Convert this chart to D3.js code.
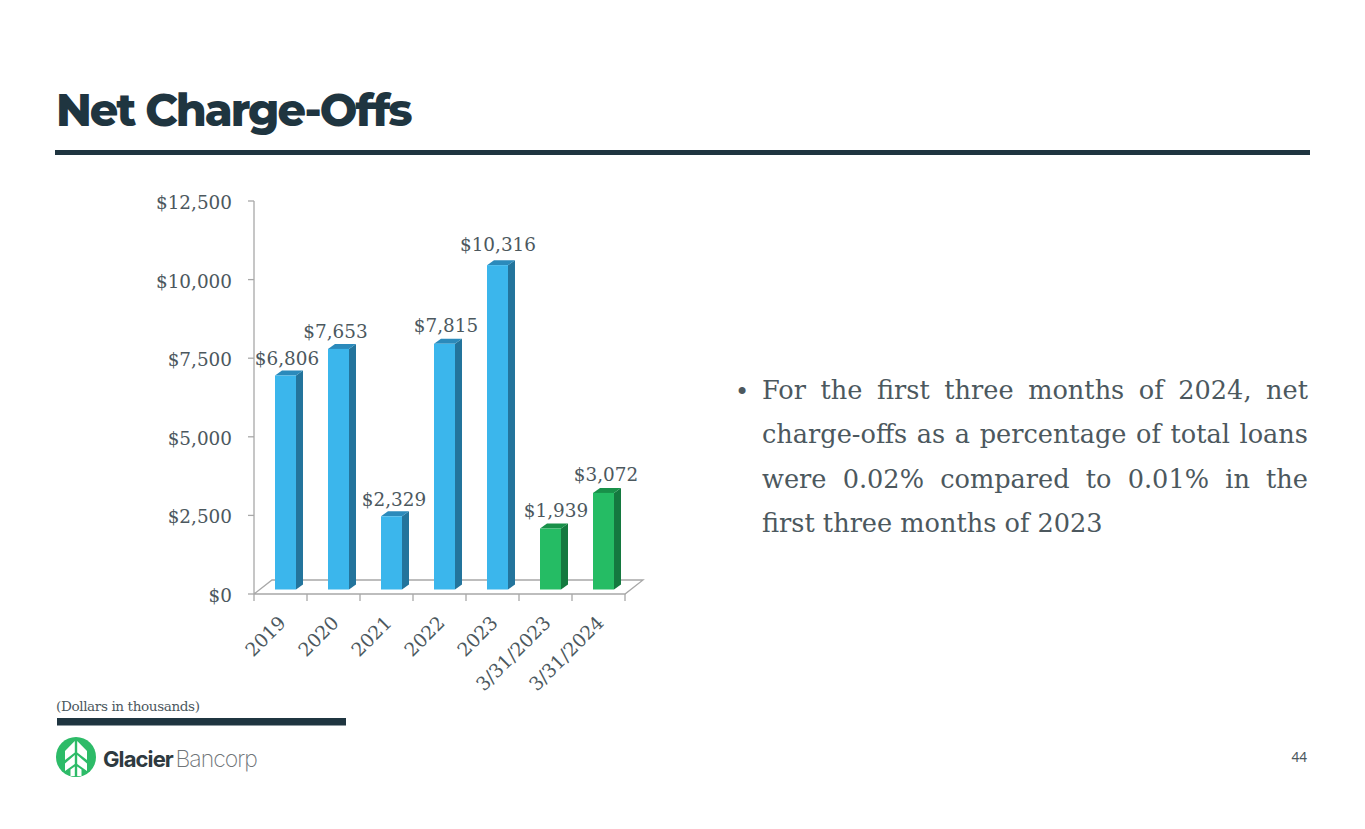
<!DOCTYPE html>
<html><head><meta charset="utf-8">
<script src="https://cdn.jsdelivr.net/npm/d3@7"></script>
<style>html,body{margin:0;padding:0;background:#fff}svg{display:block}</style>
</head><body><svg id="c" width="1365" height="829"></svg>
<script>
const categories=["2019","2020","2021","2022","2023","3/31/2023","3/31/2024"];
const values=[6806,7653,2329,7815,10316,1939,3072];
const valueLabels=["$6,806","$7,653","$2,329","$7,815","$10,316","$1,939","$3,072"];
const barGroups=["blue","blue","blue","blue","blue","green","green"];
const yTicks=[0,2500,5000,7500,10000,12500];
const bulletLines=["For the first three months of 2024, net","charge-offs as a percentage of total loans","were 0.02% compared to 0.01% in the","first three months of 2023"];
const SERIF="'DejaVu Serif',serif", SANS="Montserrat,Inter,'Noto Sans',sans-serif";
const dark="#1f3540", txt="#4c585e";
const svg=d3.select("#c");
const x=d3.scaleBand().domain(categories).range([254,625]);
const y=d3.scaleLinear().domain([0,12500]).range([594,201]);
const palette={blue:{f:"#3bb6ec",s:"#23749c",t:"#2b8abb"},green:{f:"#25bc64",s:"#14793f",t:"#189049"}};
// Title
svg.append("text").attr("x",56).attr("y",126).attr("font-family",SANS).attr("font-weight",800).attr("font-size",44.5).attr("letter-spacing",-2).attr("fill",dark).text("Net Charge-Offs");
svg.append("rect").attr("x",55).attr("y",150).attr("width",1255).attr("height",5).attr("fill",dark);
// Axes and floor
const g=svg.append("g");
const ax="#a8a8a8";
const dx=18,dy=-14;
g.append("path").attr("fill","none").attr("stroke",ax).attr("stroke-width",1.3)
 .attr("d",`M254,201V594M254,594L${254+dx},${594+dy}H${625+dx}L625,594H254`);
yTicks.forEach(t=>g.append("line").attr("x1",248).attr("x2",254).attr("y1",y(t)).attr("y2",y(t)).attr("stroke",ax).attr("stroke-width",1.3));
[...categories,null].forEach(c=>{const px=c?x(c):625;g.append("line").attr("x1",px).attr("x2",px).attr("y1",594).attr("y2",601).attr("stroke",ax).attr("stroke-width",1.3);});
yTicks.forEach(t=>svg.append("text").attr("x",232).attr("y",y(t)+8).attr("text-anchor","end").attr("font-family",SERIF).attr("font-size",18.4).attr("fill",txt).text("$"+d3.format(",")(t)));
// Bars
const bw=21,ox=21,ddx=7,ddy=-5,by=-4.5;
const labelShift=[1.5,-3,2.5,1.5,0.5,5.5,2.5];
const labelGap=[11,11,10,12,14,12,12];
categories.forEach((c,i)=>{
  const p=palette[barGroups[i]],l=x(c)+ox,r=l+bw,b=y(0)+by,t=y(values[i])+by;
  g.append("path").attr("fill",p.s).attr("d",`M${r},${t}L${r+ddx},${t+ddy}V${b+ddy}L${r},${b}Z`);
  g.append("path").attr("fill",p.t).attr("d",`M${l},${t}L${l+ddx},${t+ddy}H${r+ddx}L${r},${t}Z`);
  g.append("rect").attr("x",l).attr("y",t).attr("width",bw).attr("height",b-t).attr("fill",p.f);
  svg.append("text").attr("x",(l+r)/2+labelShift[i]).attr("y",t-labelGap[i]).attr("text-anchor","middle").attr("font-family",SERIF).attr("font-size",18.4).attr("fill",txt).text(valueLabels[i]);
  const tx=x(c)+x.bandwidth()-20,ty=624;
  svg.append("text").attr("transform",`translate(${tx},${ty}) rotate(-45)`).attr("text-anchor","end").attr("font-family",SERIF).attr("font-size",18.8).attr("fill",txt).text(c);
});
// Bullet
svg.append("text").attr("x",735).attr("y",400).attr("font-family",SERIF).attr("font-size",24).attr("fill",txt).text("•");
bulletLines.forEach((s,i)=>{
  const tEl=svg.append("text").attr("x",762).attr("y",398.5+i*44.6).attr("font-family",SERIF).attr("font-size",25.6).attr("fill",txt).text(s);
  if(i<3){const w=tEl.node().getComputedTextLength(),n=s.split(" ").length-1;tEl.attr("word-spacing",(546-w)/n);}
});
// Footer
svg.append("text").attr("x",56).attr("y",711).attr("font-family",SERIF).attr("font-size",13.6).attr("letter-spacing",-0.4).attr("fill",txt).text("(Dollars in thousands)");
svg.append("rect").attr("x",57).attr("y",718).attr("width",289).attr("height",7.5).attr("fill",dark);
const logo=svg.append("g").attr("transform","translate(76,757)");
logo.append("circle").attr("r",20).attr("fill","#2dbb68");
const half="M-1.2,-16L-1.2,-4.5L-11,3V-6ZM-1.2,-2L-1.2,7L-11,14V6.5ZM-1.2,9.5V19H-5.5V12.5Z";
logo.append("path").attr("fill","#fff").attr("d",half);
logo.append("path").attr("fill","#fff").attr("transform","scale(-1,1)").attr("d",half);
svg.append("text").attr("x",103).attr("y",767).attr("font-family","Inter,sans-serif").attr("font-weight",700).attr("font-size",22).attr("letter-spacing",-0.9).attr("fill","#2e3a40").text("Glacier");
svg.append("text").attr("x",175.5).attr("y",767).attr("font-family","Inter,sans-serif").attr("font-weight",200).attr("font-size",23).attr("letter-spacing",-1).attr("fill","#707578").text("Bancorp");
svg.append("text").attr("x",1307).attr("y",762).attr("text-anchor","end").attr("font-family","'Noto Sans',sans-serif").attr("font-size",13.5).attr("fill",txt).text("44");
</script></body></html>
